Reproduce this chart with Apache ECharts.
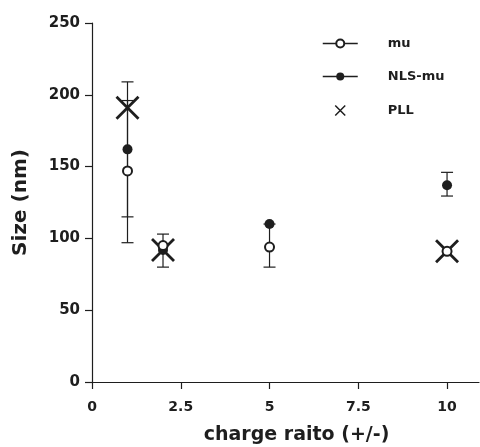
<!DOCTYPE html>
<html>
<head>
<meta charset="utf-8">
<script src="https://cdn.jsdelivr.net/npm/echarts@6/dist/echarts.min.js"></script>
<style>
  html, body { margin: 0; padding: 0; background: #fff; }
  #main { width: 480px; height: 447px; }
</style>
</head>
<body>
<div id="main"></div>
<script>
// values
var xTicks = [0, 2.5, 5, 7.5, 10];
var muPoints = [[1, 147], [2, 95], [5, 94], [10, 91]];
var nlsPoints = [[1, 162], [2, 92], [5, 110], [10, 137]];
var pllPoints = [[1, 191], [2, 92], [10, 91]];
// error bars: [x, low, high]
var muErr = [[1, 97, 196], [2, 80, 103], [5, 80, 110]];
var nlsErr = [[1, 115, 209], [10, 129.5, 146]];

var ink = '#1e1e1e';
var font = '"DejaVu Sans", Arial, sans-serif';
var xSym = 'path://M0,0 L10,10 M10,0 L0,10';

window.onload = function() {
  var myChart = echarts.init(document.getElementById('main'));

  function renderErr(params, api) {
    var x = api.value(0);
    var lo = api.coord([x, api.value(1)]);
    var hi = api.coord([x, api.value(2)]);
    var w = 6;
    var st = { stroke: ink, lineWidth: 1.2 };
    return {
      type: 'group',
      children: [
        { type: 'line', shape: { x1: lo[0], y1: lo[1], x2: hi[0], y2: hi[1] }, style: st },
        { type: 'line', shape: { x1: lo[0] - w, y1: lo[1], x2: lo[0] + w, y2: lo[1] }, style: st },
        { type: 'line', shape: { x1: hi[0] - w, y1: hi[1], x2: hi[0] + w, y2: hi[1] }, style: st }
      ]
    };
  }

  var option = {
    backgroundColor: '#fff',
    animation: false,
    grid: { left: 92, right: 1, top: 23, bottom: 65, outerBoundsMode: 'none', containLabel: false },
    legend: {
      orient: 'vertical',
      left: 317,
      top: 32,
      itemWidth: 35,
      itemHeight: 10,
      itemGap: 20,
      textStyle: { color: ink, fontFamily: font, fontWeight: 'bold', fontSize: 13, padding: [0, 0, 0, 25] },
      lineStyle: { color: ink, width: 1.5, opacity: 1 },
      data: [
        { name: 'mu' },
        { name: 'NLS-mu' },
        { name: 'PLL', icon: xSym, itemStyle: { color: 'none', borderColor: ink, borderWidth: 1.5 } }
      ]
    },
    xAxis: {
      type: 'value',
      min: 0,
      max: 10.9,
      interval: 2.5,
      name: 'charge raito (+/-)',
      nameLocation: 'middle',
      nameGap: 44,
      nameTextStyle: { color: ink, fontFamily: font, fontWeight: 'bold', fontSize: 19, padding: [0, 0, 0, 22] },
      axisLine: { lineStyle: { color: ink, width: 1.2 } },
      axisTick: { show: true, length: 7, customValues: xTicks, lineStyle: { color: ink, width: 1.2 } },
      axisLabel: {
        color: ink, fontFamily: font, fontWeight: 'bold', fontSize: 14, margin: 18,
        customValues: xTicks
      },
      splitLine: { show: false }
    },
    yAxis: {
      type: 'value',
      min: 0,
      max: 250,
      interval: 50,
      name: 'Size (nm)',
      nameLocation: 'middle',
      nameGap: 61,
      nameRotate: 90,
      nameTextStyle: { color: ink, fontFamily: font, fontWeight: 'bold', fontSize: 20 },
      axisLine: { show: true, lineStyle: { color: ink, width: 1.2 } },
      axisTick: { show: true, length: 7, lineStyle: { color: ink, width: 1.2 } },
      axisLabel: { color: ink, fontFamily: font, fontWeight: 'bold', fontSize: 15, margin: 12 },
      splitLine: { show: false }
    },
    series: [
      {
        type: 'custom',
        name: 'muErr',
        renderItem: renderErr,
        data: muErr,
        encode: { x: 0, y: [1, 2] },
        z: 1,
        silent: true
      },
      {
        type: 'custom',
        name: 'nlsErr',
        renderItem: renderErr,
        data: nlsErr,
        encode: { x: 0, y: [1, 2] },
        z: 1,
        silent: true
      },
      {
        type: 'scatter',
        name: 'PLL',
        symbol: xSym,
        symbolSize: 22,
        itemStyle: { color: 'none', borderColor: ink, borderWidth: 2.8, opacity: 1 },
        data: pllPoints,
        z: 2
      },
      {
        type: 'line',
        name: 'NLS-mu',
        symbol: 'circle',
        symbolSize: 10,
        showAllSymbol: true,
        itemStyle: { color: ink },
        lineStyle: { width: 0, opacity: 0 },
        data: nlsPoints,
        z: 3
      },
      {
        type: 'line',
        name: 'mu',
        symbol: 'emptyCircle',
        symbolSize: 9,
        showAllSymbol: true,
        itemStyle: { color: ink, borderWidth: 1.5 },
        lineStyle: { width: 0, opacity: 0 },
        data: muPoints,
        z: 4
      }
    ]
  };
  myChart.setOption(option);
};
</script>
</body>
</html>
